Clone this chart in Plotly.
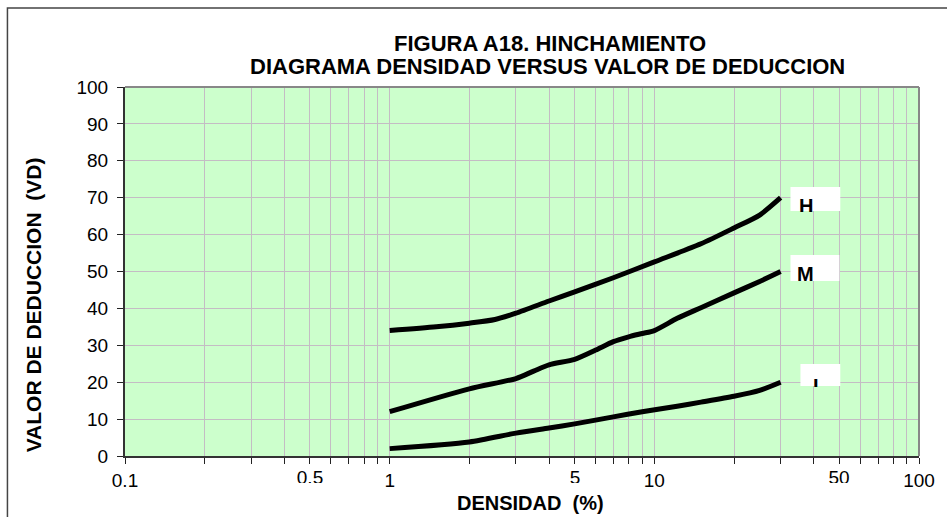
import math
import plotly.graph_objects as go

# ---- data ----
dens_H = [1, 1.5, 2, 2.5, 3, 4, 5, 7, 10, 15, 20, 25, 30]
vd_H = [34, 35, 36, 37, 38.7, 42, 44.5, 48.3, 52.6, 57.5, 61.8, 65.3, 70]

dens_M = [1, 2, 3, 3.5, 4, 5, 6, 7, 8, 9, 10, 12.2, 15, 20, 25, 30]
vd_M = [12, 18.2, 21, 23, 24.7, 26.2, 28.7, 31, 32.3, 33.2, 34.0, 37.3, 40.2, 44.2, 47.3, 50]

dens_L = [1, 2, 3, 4, 5, 7, 9, 12.2, 15, 20, 25, 30]
vd_L = [2, 3.8, 6.2, 7.6, 8.7, 10.6, 12, 13.5, 14.6, 16.2, 17.8, 20]

series_names = ["H", "M", "L"]

x_tickvals = [0.1, 0.5, 1, 5, 10, 50, 100]
x_ticktext = ["0.1", "0.5", "1", "5", "10", "50", "100"]
x_clipped = [0.5, 5, 50]          # labels drawn half-hidden in the original
x_minor = [m * d for d in (0.1, 1, 10) for m in range(2, 10)]
y_tickvals = list(range(0, 101, 10))

title_line1 = "FIGURA A18. HINCHAMIENTO"
title_line2 = "DIAGRAMA DENSIDAD VERSUS VALOR DE DEDUCCION"
x_title = "DENSIDAD  (%)"
y_title = "VALOR DE DEDUCCION  (VD)"

# ---- figure ----
W, H = 947, 517
L_M, R_M, T_M, B_M = 125, 25, 87, 61
FONT = "Liberation Sans, Arial, sans-serif"

fig = go.Figure()
for xs, ys, name in zip((dens_H, dens_M, dens_L), (vd_H, vd_M, vd_L), series_names):
    fig.add_trace(go.Scatter(x=xs, y=ys, mode="lines", name=name,
                             line=dict(color="black", width=5, shape="spline", smoothing=0.7),
                             showlegend=False, hoverinfo="x+y"))

shown_text = ["" if v in x_clipped else t for v, t in zip(x_tickvals, x_ticktext)]

grid_col = "#c4bcc4"
fig.update_layout(
    width=W, height=H,
    margin=dict(l=L_M, r=R_M, t=T_M, b=B_M),
    paper_bgcolor="white",
    plot_bgcolor="#CCFFCC",
    font=dict(family=FONT, color="black", size=19),
    xaxis=dict(type="log", range=[-1, 2], tickmode="array", tickvals=x_tickvals,
               ticktext=shown_text, ticks="outside", ticklen=6, tickcolor="#222",
               showgrid=True, gridcolor=grid_col, gridwidth=1.3,
               showline=True, linecolor="#333", linewidth=2, zeroline=False,
               tickfont=dict(size=19),
               minor=dict(tickmode="array", tickvals=x_minor, ticks="outside", ticklen=6,
                          tickcolor="#222", showgrid=True, gridcolor=grid_col, gridwidth=1.3)),
    yaxis=dict(range=[0, 100], tickmode="array", tickvals=y_tickvals, ticks="outside",
               ticklen=6, tickcolor="#222", showgrid=True, gridcolor=grid_col, gridwidth=1.3,
               showline=True, linecolor="#333", linewidth=2, zeroline=False,
               tickfont=dict(size=19), ticklabelstandoff=5),
)

pw = W - L_M - R_M
ph = H - T_M - B_M
def px(xp):
    return (xp - L_M) / pw
def py(yp):
    return (H - B_M - yp) / ph

# clipped tick labels (top part only)
for v, t in zip(x_tickvals, x_ticktext):
    if v in x_clipped:
        fig.add_annotation(text=t, xref="x", yref="paper", x=math.log10(v), y=py(466),
                           xanchor="center", yanchor="top", width=40, height=16,
                           valign="top", align="center", borderpad=0,
                           showarrow=False, font=dict(size=19))

# top and right borders of plot area (gray)
fig.add_shape(type="line", xref="paper", yref="paper", x0=0, x1=1, y0=1, y1=1,
              line=dict(color="#888", width=2))
fig.add_shape(type="line", xref="paper", yref="paper", x0=1, x1=1, y0=0, y1=1,
              line=dict(color="#888", width=2))
# outer chart frame
fig.add_shape(type="rect", xref="paper", yref="paper", x0=px(7), x1=px(960), y0=py(530), y1=py(8),
              line=dict(color="#444", width=1.5), layer="above")

# titles
fig.add_annotation(text="<b>%s</b>" % title_line1, xref="paper", yref="paper",
                   x=px(552), y=py(44), xanchor="center", yanchor="middle",
                   showarrow=False, font=dict(size=22))
fig.add_annotation(text="<b>%s</b>" % title_line2, xref="paper", yref="paper",
                   x=px(549), y=py(66), xanchor="center", yanchor="middle",
                   showarrow=False, font=dict(size=22))
fig.add_annotation(text="<b>%s</b>" % x_title, xref="paper", yref="paper",
                   x=px(532), y=py(503), xanchor="center", yanchor="middle",
                   showarrow=False, font=dict(size=20))
fig.add_annotation(text="<b>%s</b>" % y_title, xref="paper", yref="paper",
                   x=px(33), y=py(305), xanchor="center", yanchor="middle",
                   textangle=-90, showarrow=False, font=dict(size=21))

# series label boxes (white rectangles) and letters
boxes = [("H", 793, 187, 843, 211), ("M", 793, 255, 842, 281), ("L", 803, 364, 843, 386)]
for name, x0, y0, x1, y1 in boxes:
    fig.add_shape(type="rect", xref="paper", yref="paper", x0=px(x0), x1=px(x1),
                  y0=py(y1), y1=py(y0), fillcolor="white", line=dict(width=0), layer="above")
# letters, clipped to the lower edge of each box as in the original
letters = [("H", 801, 194, 17), ("M", 799, 262, 19), ("L", 815, 374, 12)]
for name, lx, ly, lh in letters:
    fig.add_annotation(text="<b>%s</b>" % name, xref="paper", yref="paper",
                       x=px(lx), y=py(ly), xanchor="left", yanchor="top",
                       width=22, height=lh, valign="top", align="left", borderpad=0,
                       showarrow=False, font=dict(size=20))

fig.write_html("out.html", config={"displayModeBar": False},
               post_script="document.body.style.margin='0';document.body.style.overflow='hidden';")
